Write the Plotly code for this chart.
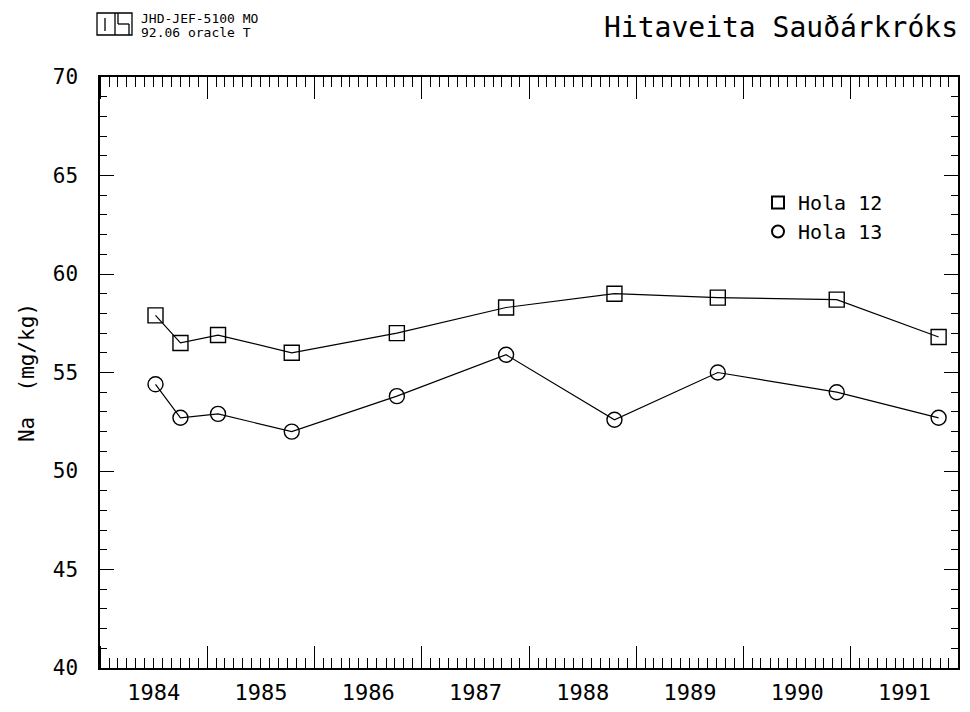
import plotly.graph_objects as go

# ---- data ----
sample_dates = ["1984-07-08", "1984-10-01", "1985-02-06", "1985-10-15", "1986-10-08",
                "1987-10-15", "1988-10-18", "1989-10-05", "1990-11-14", "1991-10-27"]
hola12 = [57.9, 56.5, 56.9, 56.0, 57.0, 58.3, 59.0, 58.8, 58.7, 56.8]
hola13 = [54.4, 52.7, 52.9, 52.0, 53.8, 55.9, 52.6, 55.0, 54.0, 52.7]
series_names = ["Hola 12", "Hola 13"]
y_ticks = [40, 45, 50, 55, 60, 65, 70]

FONT = "DejaVu Sans Mono"
OFF = 8                      # default page body margin
W, H = 970 - 2 * OFF, 712 - 2 * OFF
# frame in page pixels: left 100, right 958, top 77, bottom 668
L, T = 100 - OFF, 77 - OFF
R = W - (958 - OFF)
B = H - (668 - OFF)
PW, PH = W - L - R, H - T - B

def px(x):  # page pixel -> paper (decoration only)
    return (x - OFF - L) / PW

def py(y):
    return (H - B - (y - OFF)) / PH

fig = go.Figure()
for vals in (hola12, hola13):
    fig.add_trace(go.Scatter(x=sample_dates, y=vals, mode="lines",
                             line=dict(color="black", width=1.2), showlegend=False,
                             hoverinfo="skip"))
symbols = ["square-open", "circle-open"]
for vals, name, sym in zip((hola12, hola13), series_names, symbols):
    fig.add_trace(go.Scatter(x=sample_dates, y=vals, mode="markers", name=name,
                             marker=dict(symbol=sym, size=15, color="black",
                                         line=dict(color="black", width=1.4))))

fig.update_xaxes(
    type="date", range=["1984-01-01", "1992-01-01"],
    dtick="M12", tick0="1984-01-01", tickformat="%Y", ticklabelmode="period",
    ticks="inside", ticklen=22, tickwidth=1.3, tickcolor="black",
    minor=dict(dtick="M1", ticks="inside", ticklen=10, tickwidth=1.2, tickcolor="black"),
    showline=True, linecolor="black", linewidth=1.5, mirror="ticks",
    showgrid=False, zeroline=False, automargin=False,
    tickfont=dict(family=FONT, size=22, color="black"), ticklabelstandoff=4,
)
fig.update_yaxes(
    range=[40, 70], tickvals=y_ticks,
    ticks="inside", ticklen=14, tickwidth=1.3, tickcolor="black",
    minor=dict(dtick=1, ticks="inside", ticklen=7, tickwidth=1.2, tickcolor="black"),
    showline=True, linecolor="black", linewidth=1.5, mirror="ticks",
    showgrid=False, zeroline=False, automargin=False,
    tickfont=dict(family=FONT, size=21, color="black"), ticklabelstandoff=16,
    title=dict(text="Na\u00a0\u00a0(mg/kg)", font=dict(family=FONT, size=21, color="black"),
               standoff=12),
)

shapes = []
def line(x0, y0, x1, y1):
    shapes.append(dict(type="line", xref="paper", yref="paper",
                       x0=px(x0), y0=py(y0), x1=px(x1), y1=py(y1),
                       line=dict(color="black", width=1.3)))
# logo box
shapes.append(dict(type="rect", xref="paper", yref="paper",
                   x0=px(97), y0=py(13), x1=px(132), y1=py(35),
                   line=dict(color="black", width=1.3)))
line(115, 13, 115, 35)
line(105, 18, 105, 31)
line(118, 24, 129, 24)
line(118, 13, 118, 24)
line(129, 24, 129, 35)

annotations = [
    dict(text="JHD-JEF-5100 MO", xref="paper", yref="paper", x=px(139), y=py(18),
         xanchor="left", yanchor="middle", showarrow=False,
         font=dict(family=FONT, size=13, color="black")),
    dict(text="92.06 oracle T", xref="paper", yref="paper", x=px(139), y=py(32),
         xanchor="left", yanchor="middle", showarrow=False,
         font=dict(family=FONT, size=13, color="black")),
]

fig.update_layout(
    width=W, height=H, margin=dict(l=L, r=R, t=T, b=B, autoexpand=False),
    paper_bgcolor="white", plot_bgcolor="white",
    title=dict(text="Hitaveita Sauðárkróks", x=1 - 4 / W, xanchor="right",
               y=1 - (27 - OFF) / H, yanchor="middle", xref="container", yref="container",
               font=dict(family=FONT, size=28, color="black")),
    legend=dict(x=px(758), y=py(183), xanchor="left", yanchor="top",
                bgcolor="rgba(0,0,0,0)", font=dict(family=FONT, size=20, color="black"),
                tracegroupgap=0, itemsizing="constant"),
    shapes=shapes, annotations=annotations,
    font=dict(family=FONT, color="black"),
)

fig.write_html("out.html")
